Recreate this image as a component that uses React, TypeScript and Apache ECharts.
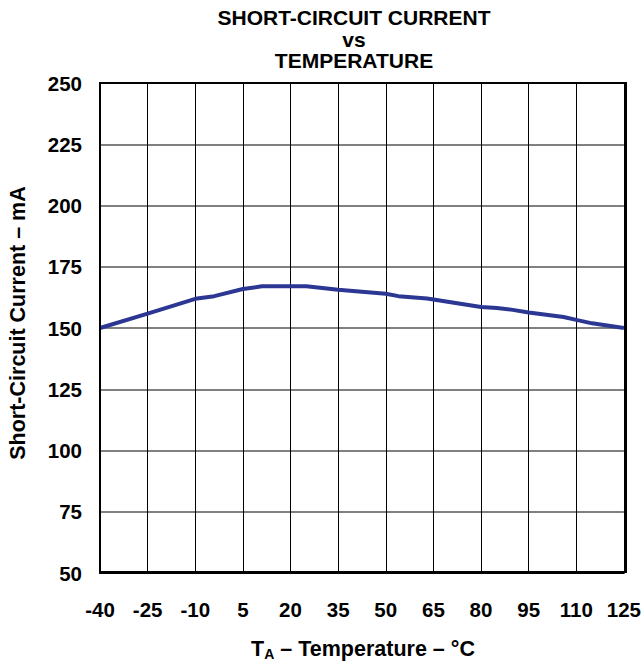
import React, { useEffect, useRef } from "react";
import * as echarts from "echarts";

const temperatures = [-40, -25, -10, -4, 5, 11, 25, 35, 50, 54, 63, 80, 85, 90, 95, 106, 110, 115, 125];
const currents = [150, 155.9, 161.9, 163, 165.9, 167, 167, 165.6, 164, 163, 162, 158.6, 158.2, 157.4, 156.3, 154.5, 153.3, 151.9, 150];
const xTicks = { min: -40, max: 125, step: 15 };
const yTicks = { min: 50, max: 250, step: 25 };

const titleText = "SHORT-CIRCUIT CURRENT\nvs\nTEMPERATURE";
const yName = "Short-Circuit Current – mA";

const FONT = "Liberation Sans, Arial, Helvetica, sans-serif";

export default function App() {
  const ref = useRef<HTMLDivElement>(null);
  useEffect(() => {
    if (!ref.current) return;
    const chart = echarts.init(ref.current, null, { renderer: "svg" });
    chart.setOption({
      animation: false,
      backgroundColor: "#ffffff",
      grid: { left: 100, right: 18, top: 83, bottom: 91, containLabel: false },
      xAxis: {
        type: "value",
        min: xTicks.min,
        max: xTicks.max,
        interval: xTicks.step,
        axisLine: { show: true, onZero: false, lineStyle: { color: "#000", width: 2 } },
        axisTick: { show: false },
        axisLabel: {
          margin: 26,
          color: "#000",
          fontSize: 20.5,
          fontWeight: "bold",
          fontFamily: FONT,
        },
        splitLine: { show: true, lineStyle: { color: "#000", width: 1 } },
      },
      yAxis: {
        type: "value",
        min: yTicks.min,
        max: yTicks.max,
        interval: yTicks.step,
        axisLine: { show: true, onZero: false, lineStyle: { color: "#000", width: 2 } },
        axisTick: { show: false },
        axisLabel: {
          margin: 18,
          color: "#000",
          fontSize: 20.5,
          fontWeight: "bold",
          fontFamily: FONT,
        },
        splitLine: { show: true, lineStyle: { color: "#808080", width: 2 } },
      },
      graphic: [
        {
          type: "rect",
          shape: { x: 100, y: 83, width: 526, height: 489 },
          style: { fill: "none", stroke: "#000", lineWidth: 2 },
          z: 10,
          silent: true,
        },
        {
          type: "text",
          x: 354,
          y: 7,
          style: {
            text: titleText,
            textAlign: "center",
            textVerticalAlign: "top",
            fontSize: 21,
            lineHeight: 21.5,
            fontWeight: "bold",
            fontFamily: FONT,
            fill: "#000",
          },
        },
        {
          type: "text",
          x: 18,
          y: 323,
          rotation: Math.PI / 2,
          style: {
            text: yName,
            textAlign: "center",
            textVerticalAlign: "middle",
            fontSize: 21.5,
            fontWeight: "bold",
            fontFamily: FONT,
            fill: "#000",
          },
        },
        {
          type: "text",
          x: 363,
          y: 649,
          style: {
            rich: {
              t: { fontSize: 21.5, fontWeight: "bold", fontFamily: FONT, fill: "#000" },
              s: { fontSize: 14, fontWeight: "bold", fontFamily: FONT, fill: "#000", padding: [10, 0, 0, 0] },
            },
            text: "{t|T}{s|A}{t| – Temperature – °C}",
            textAlign: "center",
            textVerticalAlign: "middle",
          },
        },
      ],
      series: [
        {
          type: "line",
          data: temperatures.map((t, i) => [t, currents[i]]),
          showSymbol: false,
          symbol: "none",
          lineStyle: { color: "#2b3792", width: 4 },
          z: 5,
        },
      ],
    });
    return () => chart.dispose();
  }, []);
  return (
    <div
      ref={ref}
      style={{ position: "fixed", left: 0, top: 0, width: 644, height: 664 }}
    />
  );
}
